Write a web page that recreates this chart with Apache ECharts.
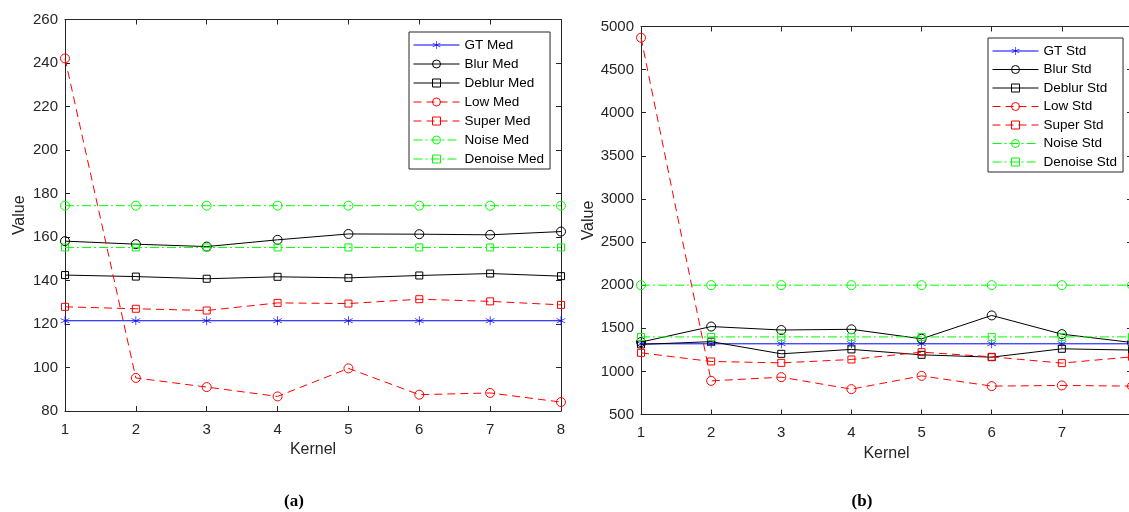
<!DOCTYPE html>
<html>
<head>
<meta charset="utf-8">
<script src="https://cdn.jsdelivr.net/npm/echarts@6/dist/echarts.min.js"></script>
<style>
html,body{margin:0;padding:0;background:#fff;}
#chart{width:1129px;height:512px;}
</style>
</head>
<body>
<div id="chart"></div>
<script>
// ---- data ----
const kernels = [1, 2, 3, 4, 5, 6, 7, 8];

const medNames = ['GT Med', 'Blur Med', 'Deblur Med', 'Low Med', 'Super Med', 'Noise Med', 'Denoise Med'];
const gtMed      = [121.5, 121.5, 121.5, 121.5, 121.5, 121.5, 121.5, 121.5];
const blurMed    = [158.1, 156.7, 155.6, 158.7, 161.4, 161.3, 161.0, 162.5];
const deblurMed  = [142.5, 141.8, 140.8, 141.7, 141.2, 142.3, 143.2, 142.0];
const lowMed     = [242.1, 95.2, 91.0, 86.7, 99.6, 87.5, 88.3, 84.1];
const superMed   = [127.9, 127.0, 126.2, 129.7, 129.4, 131.4, 130.4, 128.8];
const noiseMed   = [174.4, 174.4, 174.4, 174.4, 174.4, 174.4, 174.4, 174.4];
const denoiseMed = [155.2, 155.2, 155.2, 155.2, 155.2, 155.2, 155.2, 155.2];

const stdNames = ['GT Std', 'Blur Std', 'Deblur Std', 'Low Std', 'Super Std', 'Noise Std', 'Denoise Std'];
const gtStd      = [1320, 1320, 1320, 1320, 1320, 1320, 1320, 1320];
const blurStd    = [1340, 1520, 1480, 1488, 1378, 1649, 1432, 1335];
const deblurStd  = [1313, 1345, 1204, 1255, 1192, 1165, 1262, 1247];
const lowStd     = [4870, 890, 933, 794, 948, 829, 837, 829];
const superStd   = [1215, 1115, 1099, 1138, 1223, 1169, 1096, 1169];
const noiseStd   = [2000, 2000, 2000, 2000, 2000, 2000, 2000, 2000];
const denoiseStd = [1400, 1400, 1400, 1400, 1400, 1400, 1400, 1400];

const medTicks = {min: 80, max: 260, interval: 20};
const stdTicks = {min: 500, max: 5000, interval: 500};

// ---- styles ----
const AX = '#262626';
const FONT = '"Liberation Sans", Arial, sans-serif';
const STAR = 'path://M9.3,0L10.7,0L10.7,20L9.3,20Z M1.69,4.39L19.01,14.39L18.31,15.61L0.99,5.61Z M0.99,14.39L18.31,4.39L19.01,5.61L1.69,15.61Z';
const DASH = [8, 5];
const DASHDOT = [9, 3, 2, 3];
const styles = [
  ['#0000ff', STAR, 'solid'],
  ['#000000', 'circle', 'solid'],
  ['#000000', 'rect', 'solid'],
  ['#ff0000', 'circle', DASH],
  ['#ff0000', 'rect', DASH],
  ['#00ff00', 'circle', DASHDOT],
  ['#00ff00', 'rect', DASHDOT]
];

function pairs(vals) { return kernels.map((k, i) => [k, vals[i]]); }

function mkSeries(name, vals, idx, axisIdx) {
  const s = styles[idx];
  const isStar = s[1] === STAR;
  return {
    type: 'line', name: name,
    xAxisIndex: axisIdx, yAxisIndex: axisIdx,
    data: pairs(vals),
    symbol: s[1],
    symbolSize: isStar ? 9 : (s[1] === 'circle' ? 9 : 7),
    showAllSymbol: true,
    lineStyle: {color: s[0], width: 1, type: s[2]},
    itemStyle: isStar ? {color: s[0]} : {color: 'rgba(255,255,255,0)', borderColor: s[0], borderWidth: 1},
    emphasis: {disabled: true},
    silent: true,
    z: 2 + idx
  };
}

function mkX(grid, pos, labels, hideLast) {
  return {
    type: 'value', gridIndex: grid, position: pos,
    min: 1, max: 8, interval: 1,
    axisLine: {show: true, onZero: false, lineStyle: {color: AX, width: 1}},
    axisTick: {show: true, inside: true, length: 5, lineStyle: {color: AX}},
    axisLabel: {show: labels, margin: 11, color: AX, fontSize: 15, fontFamily: FONT,
      formatter: v => (hideLast && v === 8) ? '' : String(v)},
    splitLine: {show: false},
    name: labels ? 'Kernel' : '', nameLocation: 'middle', nameGap: 31,
    nameTextStyle: {color: AX, fontSize: 16, fontFamily: FONT}
  };
}
function mkY(grid, pos, labels, t, gap) {
  return {
    type: 'value', gridIndex: grid, position: pos,
    min: t.min, max: t.max, interval: t.interval,
    axisLine: {show: true, onZero: false, lineStyle: {color: AX, width: 1}},
    axisTick: {show: true, inside: true, length: 5, lineStyle: {color: AX}},
    axisLabel: {show: labels, margin: 7, color: AX, fontSize: 15, fontFamily: FONT,
      formatter: v => String(v)},
    splitLine: {show: false},
    name: labels ? 'Value' : '', nameLocation: 'middle', nameGap: gap,
    nameTextStyle: {color: AX, fontSize: 16, fontFamily: FONT}
  };
}

const medSeriesVals = [gtMed, blurMed, deblurMed, lowMed, superMed, noiseMed, denoiseMed];
const stdSeriesVals = [gtStd, blurStd, deblurStd, lowStd, superStd, noiseStd, denoiseStd];

const series = [];
medNames.forEach((n, i) => series.push(mkSeries(n, medSeriesVals[i], i, 0)));
stdNames.forEach((n, i) => series.push(mkSeries(n, stdSeriesVals[i], i, 2)));

function mkLegend(names, left, top, gap) {
  return {
    data: names, orient: 'vertical', left: left, top: top,
    itemWidth: 46, itemHeight: 10, itemGap: gap,
    padding: [6, 6, 3, 4],
    borderColor: AX, borderWidth: 1, backgroundColor: '#fff',
    selectedMode: false,
    itemStyle: {borderWidth: 1},
    lineStyle: {width: 1},
    textStyle: {color: '#000', fontSize: 13.5, fontFamily: FONT}
  };
}

const capRich = {
  p: {fontFamily: '"Liberation Serif", "DejaVu Serif", serif', fontSize: 17, color: '#000'},
  b: {fontFamily: '"Liberation Serif", "DejaVu Serif", serif', fontSize: 17, fontWeight: 'bold', color: '#000'}
};

const option = {
  animation: false,
  backgroundColor: '#fff',
  grid: [
    {left: 65, top: 19.5, width: 496, height: 391.5, outerBoundsMode: 'none'},
    {left: 641, top: 26.5, width: 491, height: 388, outerBoundsMode: 'none'}
  ],
  xAxis: [mkX(0, 'bottom', true, false), mkX(0, 'top', false, false), mkX(1, 'bottom', true, true), mkX(1, 'top', false, false)],
  yAxis: [mkY(0, 'left', true, medTicks, 37), mkY(0, 'right', false, medTicks, 0), mkY(1, 'left', true, stdTicks, 44), mkY(1, 'right', false, stdTicks, 0)],
  legend: [mkLegend(medNames, 409, 32, 5), mkLegend(stdNames, 988, 38, 4.5)],
  title: [
    {text: '{p|(}{b|a}{p|)}', left: 289, top: 488, textAlign: 'center', textStyle: {rich: capRich}},
    {text: '{p|(}{b|b}{p|)}', left: 857, top: 488, textAlign: 'center', textStyle: {rich: capRich}}
  ],
  series: series
};

const chart = echarts.init(document.getElementById('chart'), null, {renderer: 'canvas'});
chart.setOption(option);
</script>
</body>
</html>
